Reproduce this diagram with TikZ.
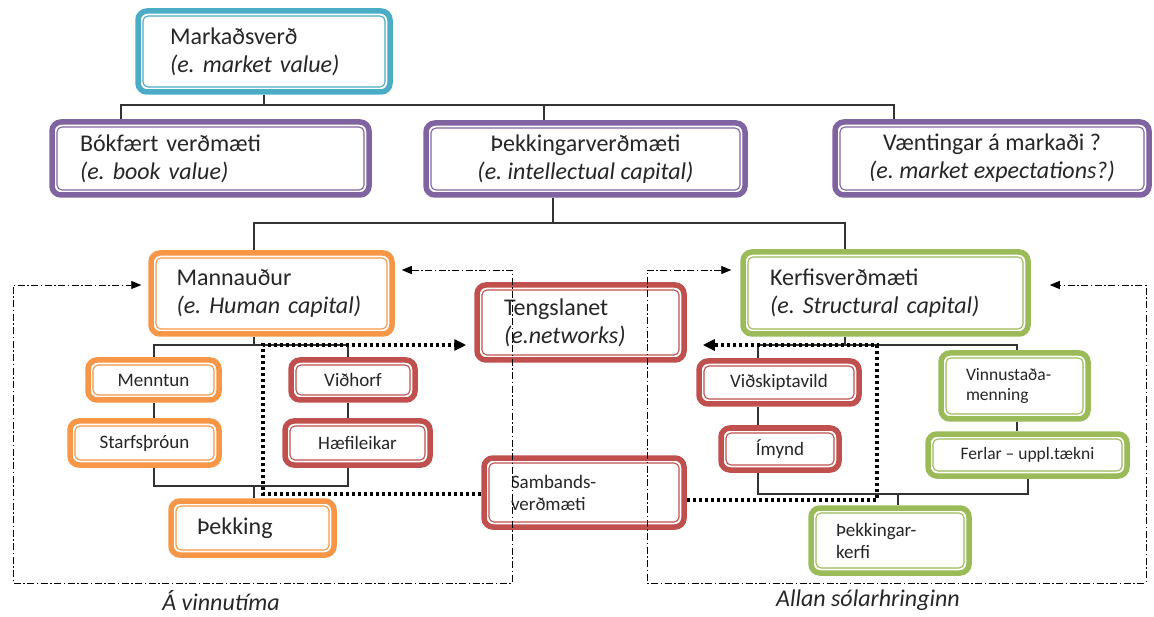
\documentclass[tikz,border=0pt]{standalone}
\usepackage{fontspec}
\setmainfont{Carlito}
\usetikzlibrary{arrows.meta}
\frenchspacing
\definecolor{cTeal}{HTML}{4BACC6}
\definecolor{cPurple}{HTML}{8064A2}
\definecolor{cOrange}{HTML}{F79646}
\definecolor{cRed}{HTML}{C0504D}
\definecolor{cGreen}{HTML}{9BBB59}
\tikzset{
 bx/.style={draw=#1, line width=5.5pt, rounded corners=9pt, fill=white, outer sep=2.75pt, inner ysep=2pt, text=black!85,
   path picture={\draw[#1, line width=1.1pt, rounded corners=5pt] ([shift={(5pt,-5pt)}]path picture bounding box.north west) rectangle ([shift={(-5pt,5pt)}]path picture bounding box.south east);}},
 bigtxt/.style={font=\fontsize{24pt}{28pt}\selectfont},
 smtxt/.style={font=\fontsize{19pt}{22pt}\selectfont},
 smmtxt/.style={font=\fontsize{17.5pt}{20pt}\selectfont},
 wh/.style 2 args={minimum width=#1pt, minimum height=#2pt},
 lt/.style 2 args={align=left, inner xsep=#1pt, text width=#2pt},
 conn/.style={line width=1.1pt, draw=black!80},
 dots/.style={line width=3.5pt, dash pattern=on 3.5pt off 2.5pt, -{Triangle[length=12pt,width=11pt]}},
 dd/.style={line width=0.9pt, dash pattern=on 7pt off 2.5pt on 1.5pt off 2.5pt},
 ddtip/.style={{Triangle[length=10pt,width=8pt]}-{Triangle[length=10pt,width=8pt]}},
 lbl/.style={font=\fontsize{24pt}{28pt}\selectfont\itshape, text=black!85, inner sep=0pt},
}
\begin{document}
\begin{tikzpicture}[x=1pt,y=-1pt]
\useasboundingbox (0,0) rectangle (1154,617);
% boxes
\node[bx=cTeal, wh={252}{81}, lt={32}{188}, bigtxt] (mv) at (264,51.5) {Markaðsverð\\\textit{(e. market value)}};
\node[bx=cPurple, wh={317}{73}, lt={28}{261}, bigtxt] (bv) at (210.5,158.5) {Bókfært verðmæti\\\textit{(e. book value)}};
\node[bx=cPurple, wh={319}{72}, align=center, bigtxt] (ic) at (585.5,159) {Þekkingarverðmæti\\\textit{(e. intellectual capital)}};
\node[bx=cPurple, wh={314}{73}, align=center, bigtxt] (me) at (992,158.5) {Væntingar á markaði ?\\\textit{(e. market expectations?)}};
\node[bx=cOrange, wh={241}{81}, lt={25.5}{190}, bigtxt] (hc) at (271.5,293.5) {Mannauður\\\textit{(e. Human capital)}};
\node[bx=cGreen, wh={285}{82}, lt={27}{231}, bigtxt] (sc) at (885.5,293) {Kerfisverðmæti\\\textit{(e. Structural capital)}};
\node[bx=cRed, wh={207}{75}, lt={27}{153}, bigtxt] (nw) at (580.5,322.5) {Tengslanet\\\textit{(e.networks)}};
\node[bx=cOrange, wh={131}{40}, smtxt] (mt) at (153.5,380) {Menntun};
\node[bx=cOrange, wh={149}{44}, smtxt] (sp) at (144.5,443) {Starfsþróun};
\node[bx=cRed, wh={124}{40}, smtxt] (vh) at (353,380) {Viðhorf};
\node[bx=cRed, wh={145}{44}, smtxt] (hf) at (357.5,443) {Hæfileikar};
\node[bx=cOrange, wh={163}{54}, lt={26}{111}, bigtxt] (tk) at (252.5,528) {Þekking};
\node[bx=cRed, wh={200}{69}, lt={27}{146}, smtxt] (sv) at (584,492.5) {Sambands-\\verðmæti};
\node[bx=cRed, wh={160}{43}, smtxt] (vs) at (779,382.5) {Viðskiptavild};
\node[bx=cRed, wh={118}{42}, smtxt] (im) at (780,449) {Ímynd};
\node[bx=cGreen, wh={147}{66}, lt={25}{97}, smmtxt] (wc) at (1014.5,386) {Vinnustaða-\\menning};
\node[bx=cGreen, wh={199}{42}, smmtxt] (fu) at (1027.5,455) {Ferlar – uppl.tækni};
\node[bx=cGreen, wh={158}{65}, lt={25}{108}, smtxt] (ks) at (890,540.5) {Þekkingar-\\kerfi};
% labels
\node[lbl] (l1) at (221,601) {Á vinnutíma};
\node[lbl] (l2) at (868,600) {Allan sólarhringinn};
% junction coordinates
\coordinate (A1) at (121,105); \coordinate (A2) at (894,105); \coordinate (A3) at (544,105);
\coordinate (B0) at (553,223); \coordinate (B1) at (254,223); \coordinate (B2) at (845,223);
\coordinate (C0) at (254,345); \coordinate (C1) at (154,345); \coordinate (C2) at (348,345);
\coordinate (C3) at (154,486); \coordinate (C4) at (348,486); \coordinate (C5) at (254,486);
\coordinate (D0) at (845,345); \coordinate (D1) at (758,345); \coordinate (D2) at (1017,345);
\coordinate (D3) at (758,494); \coordinate (D4) at (1028,494); \coordinate (D5) at (898,494);
\coordinate (E1) at (263,494); \coordinate (E2) at (263,345);
\coordinate (E3) at (877,500); \coordinate (E4) at (877,345);
\coordinate (F1) at (512,270); \coordinate (F2) at (512,583); \coordinate (F3) at (13,583); \coordinate (F4) at (13,285);
\coordinate (G1) at (647,270); \coordinate (G2) at (647,583); \coordinate (G3) at (1146,583); \coordinate (G4) at (1146,285);
% solid connectors
\draw[conn] (mv.south) -- (mv.south |- A1);
\draw[conn] (A1 |- bv.north) -- (A1) -- (A2) -- (A2 |- me.north);
\draw[conn] (A3) -- (A3 |- ic.north);
\draw[conn] (B0 |- ic.south) -- (B0);
\draw[conn] (B1 |- hc.north) -- (B1) -- (B2) -- (B2 |- sc.north);
\draw[conn] (C0 |- hc.south) -- (C0);
\draw[conn] (C1 |- mt.north) -- (C1) -- (C2) -- (C2 |- vh.north);
\draw[conn] (C1 |- mt.south) -- (C1 |- sp.north);
\draw[conn] (C2 |- vh.south) -- (C2 |- hf.north);
\draw[conn] (C3 |- sp.south) -- (C3) -- (C4) -- (C4 |- hf.south);
\draw[conn] (C5) -- (C5 |- tk.north);
\draw[conn] (D0 |- sc.south) -- (D0);
\draw[conn] (D1 |- vs.north) -- (D1) -- (D2) -- (D2 |- wc.north);
\draw[conn] (D1 |- vs.south) -- (D1 |- im.north);
\draw[conn] (D2 |- wc.south) -- (D2 |- fu.north);
\draw[conn] (D3 |- im.south) -- (D3) -- (D4) -- (D4 |- fu.south);
\draw[conn] (D5) -- (D5 |- ks.north);
% dotted arrows
\draw[dots, shorten >=8pt] (sv.west |- E1) -- (E1) -- (E2) -- (nw.west |- E2);
\draw[dots, shorten >=16pt] (sv.east |- E3) -- (E3) -- (E4) -- (nw.east |- E4);
% dash-dot frames
\draw[dd, ddtip, shorten <=7pt, shorten >=7pt] (hc.east |- F1) -- (F1) -- (F2) -- (F3) -- (F4) -- (hc.west |- F4);
\draw[dd, ddtip, shorten <=9pt, shorten >=19pt] (sc.west |- G1) -- (G1) -- (G2) -- (G3) -- (G4) -- (sc.east |- G4);
\end{tikzpicture}
\end{document}
